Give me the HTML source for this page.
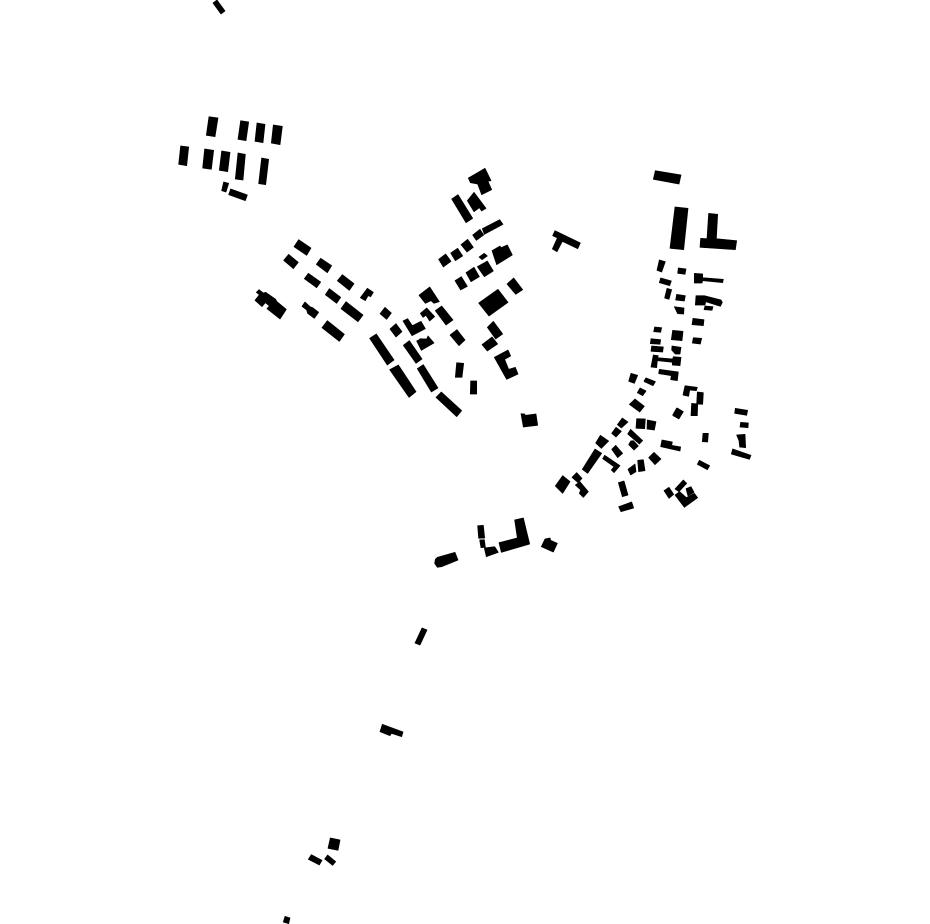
<!DOCTYPE html>
<html><head><meta charset="utf-8"><style>html,body{margin:0;padding:0;background:#fff}svg{display:block}polygon{stroke:#000;stroke-width:.7px;stroke-linejoin:round;vector-effect:non-scaling-stroke}</style></head><body>
<svg xmlns="http://www.w3.org/2000/svg" width="930" height="924" viewBox="0 0 930 924">
<rect width="930" height="924" fill="#fff"/>
<g fill="#000">
<polygon points="217,0 225,11 221,14 213,3"/>
<polygon points="422,628 427,630 420,645 415,643"/>
<g transform="translate(170,100) scale(.33333)">
<polygon points="117,50 144,54 135,110 109,106"/>
<polygon points="212,62 236,66 228,122 204,118"/>
<polygon points="261,69 285,73 279,128 255,124"/>
<polygon points="310,75 337,79 330,134 304,129"/>
<polygon points="32,138 56,141 50,197 26,193"/>
<polygon points="104,147 131,151 124,208 98,204"/>
<polygon points="155,153 180,157 173,215 148,211"/>
<polygon points="204,159 226,163 219,240 196,237"/>
<polygon points="275,174 296,178 287,254 266,251"/>
<polygon points="161,246 176,250 168,276 155,272"/>
<polygon points="182,267 232,285 226,302 176,284"/>
</g>
<g transform="translate(250,230) scale(.33333)">
<polygon points="146,29 183,54 170,76 132,50"/>
<polygon points="116,73 145,97 130,116 101,91"/>
<polygon points="212,85 245,107 232,128 199,103"/>
<polygon points="175,130 212,156 200,173 163,146"/>
<polygon points="277,134 312,161 298,181 262,152"/>
<polygon points="238,176 272,202 260,220 226,194"/>
<polygon points="352,175 370,187 362,200 354,197 346,212 331,203"/>
<polygon points="288,215 339,255 324,275 273,236"/>
<polygon points="405,232 424,249 410,268 390,251"/>
<polygon points="232,272 283,313 268,334 216,293"/>
<polygon points="165,216 180,230 188,233 206,247 193,265 173,250 170,240 156,229"/>
<polygon points="27,179 40,189 47,187 77,208 80,214 109,238 90,267 51,236 58,228 46,218 36,230 15,211 28,194 19,187"/>
</g>
<g transform="translate(360,280) scale(.33333)">
<polygon points="29,175 49,162 102,240 82,255"/>
<polygon points="108,131 126,155 108,171 90,147"/>
<polygon points="129,123 143,116 157,137 183,124 196,146 156,167"/>
<polygon points="130,196 148,182 186,237 168,250"/>
<polygon points="170,183 178,179 180,176 200,177 204,168 222,189 184,211"/>
<polygon points="89,269 115,255 168,335 147,352"/>
<polygon points="172,266 190,254 234,324 214,336"/>
<polygon points="228,352 244,336 305,392 290,410"/>
<polygon points="177,46 209,21 238,65 222,70 213,62 196,70"/>
<polygon points="181,100 200,84 224,110 209,123 198,106 189,112"/>
<polygon points="226,92 245,78 279,120 258,135"/>
<polygon points="270,165 291,149 315,180 297,197"/>
<polygon points="290,248 311,250 306,292 286,292"/>
<polygon points="332,303 350,303 350,342 331,342"/>
</g>
<g transform="translate(430,160) scale(.33333)">
<polygon points="115,54 165,25 183,62 174,64 185,89 155,104 143,72 121,68"/>
<polygon points="65,117 84,104 128,175 108,188"/>
<polygon points="112,122 132,97 168,145 155,153 148,143 132,155"/>
<polygon points="157,206 209,179 219,193 163,223"/>
<polygon points="128,225 150,208 161,225 139,241"/>
<polygon points="93,254 113,238 130,262 111,276"/>
<polygon points="62,279 83,265 98,288 76,302"/>
<polygon points="26,298 47,282 63,304 40,321"/>
<polygon points="147,291 163,280 172,288 156,299"/>
<polygon points="186,272 210,258 213,263 232,255 247,285 200,314"/>
<polygon points="142,320 172,303 190,333 163,350"/>
<polygon points="108,338 132,322 148,350 123,365"/>
<polygon points="75,362 94,350 112,379 92,390"/>
<polygon points="368,227 375,212 451,249 443,266 397,244 381,275 367,267 382,234"/>
</g>
<g transform="translate(450,270) scale(.33333)">
<polygon points="86,99 144,58 174,97 117,138"/>
<polygon points="171,42 191,24 218,59 197,73"/>
<polygon points="112,172 130,154 158,192 137,207"/>
<polygon points="96,224 126,201 143,222 112,243"/>
<polygon points="133,262 174,240 182,258 164,268 176,298 196,292 204,312 170,328"/>
<polygon points="213,431 224,432 226,436 258,432 263,466 220,471"/>
</g>
<g transform="translate(640,160) scale(.33333)">
<polygon points="46,32 123,45 117,72 40,58"/>
<polygon points="105,141 144,145 131,269 90,265"/>
<polygon points="206,160 233,163 229,236 290,242 286,269 180,262 182,235 201,236"/>
</g>
<g transform="translate(640,255) scale(.33333)">
<polygon points="58,15 76,20 65,51 51,46"/>
<polygon points="115,39 138,42 135,58 113,55"/>
<polygon points="163,55 188,57 188,68 250,73 248,83 188,77 186,84 163,84"/>
<polygon points="62,69 94,78 89,92 58,83"/>
<polygon points="81,100 95,104 87,133 74,129"/>
<polygon points="110,118 136,122 133,138 107,135"/>
<polygon points="168,122 193,122 243,135 247,142 241,154 197,140 195,150 166,150"/>
<polygon points="195,153 219,155 216,166 192,164"/>
<polygon points="103,155 132,159 131,177 113,176 109,168"/>
<polygon points="159,190 192,194 190,212 156,209"/>
<polygon points="44,216 65,218 62,232 41,230"/>
<polygon points="98,226 129,229 126,257 94,254"/>
<polygon points="160,248 185,250 181,267 157,264"/>
<polygon points="33,251 62,254 60,268 31,266"/>
<polygon points="35,273 70,276 68,291 33,289"/>
<polygon points="96,273 123,277 120,297 106,297 95,285"/>
<polygon points="40,300 55,302 53,308 98,312 100,305 123,307 120,332 97,330 97,322 52,317 50,338 33,336"/>
<polygon points="58,343 115,351 112,377 92,374 94,362 56,356"/>
<polygon points="18,369 46,380 40,390 12,378"/>
</g>
<g transform="translate(590,370) scale(.33333)">
<polygon points="123,10 143,16 133,40 116,34"/>
<polygon points="168,24 196,35 189,47 163,35"/>
<polygon points="150,54 168,63 158,77 142,68"/>
<polygon points="135,87 163,109 149,126 118,103"/>
<polygon points="285,47 322,52 319,62 299,60 296,79 279,75"/>
<polygon points="305,100 323,102 322,137 303,137"/>
<polygon points="322,66 340,68 338,103 320,102"/>
<polygon points="260,114 279,126 266,147 248,135"/>
<polygon points="97,144 114,156 94,174 82,164"/>
<polygon points="78,172 94,184 78,201 65,190"/>
<polygon points="140,146 166,147 164,176 138,175"/>
<polygon points="172,150 198,155 193,180 171,177"/>
<polygon points="122,178 158,212 148,222 113,192"/>
<polygon points="122,213 130,212 145,228 132,240 116,224"/>
<polygon points="31,196 56,213 34,235 17,219"/>
<polygon points="77,226 98,250 83,263 65,238"/>
<polygon points="44,256 90,287 72,308 64,300 72,290 38,266"/>
<polygon points="216,210 247,216 245,226 272,231 270,243 212,230"/>
<polygon points="192,247 213,267 195,284 176,263"/>
<polygon points="143,271 160,269 165,302 146,305"/>
<polygon points="135,282 138,305 122,315 114,298"/>
</g>
<g transform="translate(550,440) scale(.33333)">
<polygon points="135,27 155,40 113,100 97,88"/>
<polygon points="38,107 60,125 38,160 16,138"/>
<polygon points="80,98 96,115 84,128 66,112"/>
<polygon points="90,125 115,155 100,172 88,160 92,150 76,135"/>
<polygon points="205,128 222,123 234,165 217,170"/>
<polygon points="206,200 245,186 251,204 213,215"/>
</g>
<g transform="translate(655,400) scale(.33333)">
<polygon points="67,24 85,35 72,56 54,47"/>
<polygon points="241,25 278,31 275,46 239,40"/>
<polygon points="257,67 280,69 279,83 255,81"/>
<polygon points="245,105 270,103 272,143 254,141 252,122"/>
<polygon points="233,147 288,166 283,178 229,162"/>
<polygon points="144,100 160,100 158,126 142,125"/>
<polygon points="133,181 164,197 157,209 127,193"/>
<polygon points="27,272 42,262 56,283 42,295"/>
<polygon points="60,267 85,240 95,250 72,275"/>
<polygon points="60,285 74,275 94,293 118,280 128,293 88,322"/>
<polygon points="93,266 108,260 117,277 99,288"/>
</g>
<g transform="translate(430,510) scale(.33333)">
<polygon points="22,142 75,127 84,150 35,170 22,172 14,160 16,148"/>
<polygon points="143,47 160,46 164,84 146,85"/>
<polygon points="149,90 163,89 166,112 153,113"/>
<polygon points="163,114 194,110 205,127 169,140"/>
<polygon points="207,98 262,84 254,30 280,24 299,102 214,127"/>
<polygon points="345,87 360,84 362,91 382,100 370,126 334,110"/>
</g>
<g transform="translate(280,720) scale(.33333)">
<polygon points="307,13 369,36 365,50 334,40 330,47 300,35"/>
<polygon points="151,354 180,360 174,391 144,385"/>
<polygon points="94,404 126,421 118,435 85,418"/>
<polygon points="143,405 167,425 158,436 134,417"/>
<polygon points="15,589 30,594 26,611 10,606"/>
</g>
</g>
</svg>
</body></html>
